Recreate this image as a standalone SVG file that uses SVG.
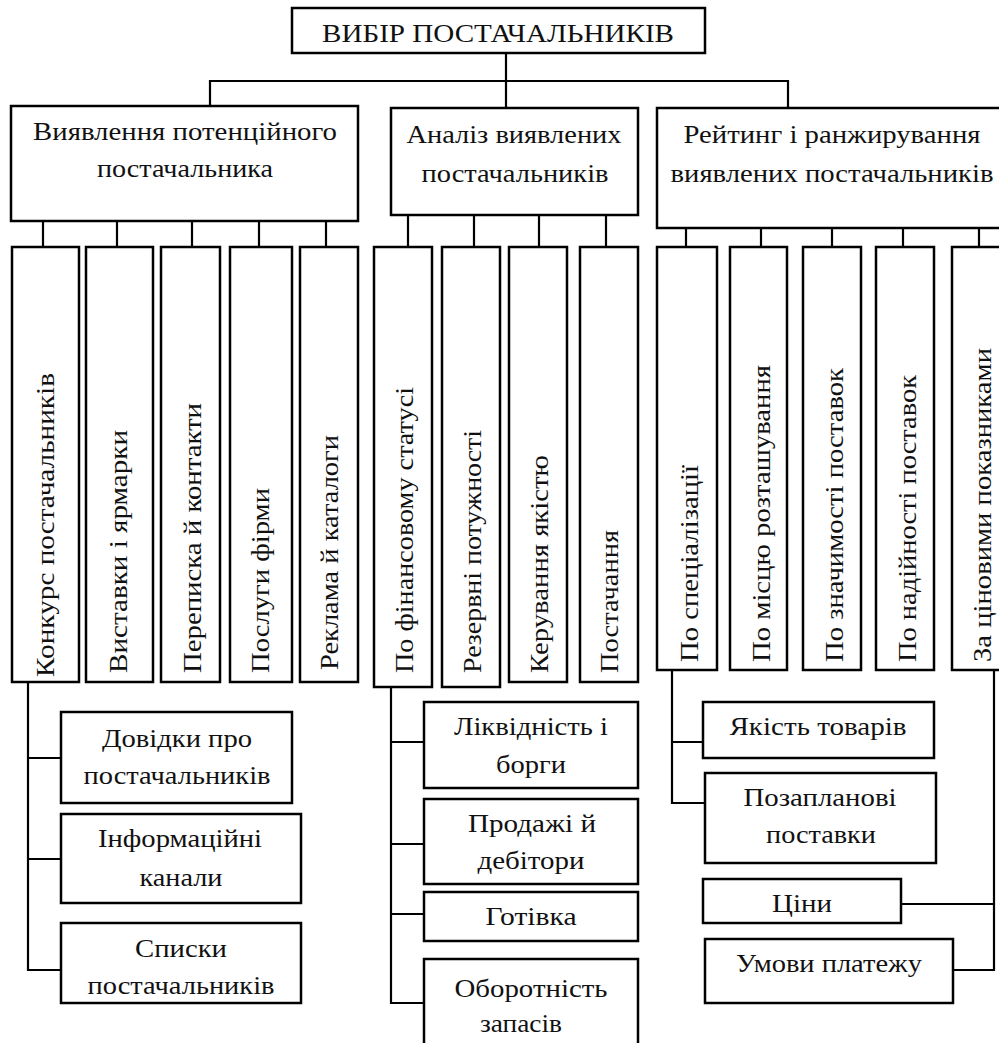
<svg xmlns="http://www.w3.org/2000/svg" width="999" height="1043" viewBox="0 0 999 1043">
<style>
.b{fill:#fff;stroke:#000;stroke-width:2.5}
.c{fill:none;stroke:#000;stroke-width:2.2}
text{font-family:"Liberation Serif","Times New Roman",serif;font-size:25px;fill:#111}
.m{text-anchor:middle}
</style>
<rect width="999" height="1043" fill="#fff"/>
<g id="connectors">
<path class="c" d="M506 53V108M210 106V81H788V108"/>
<path class="c" d="M43 221V247M117 221V247M192 221V247M259 221V247M326 221V247"/>
<path class="c" d="M408 215V247M474 215V247M539 215V247M606 215V247"/>
<path class="c" d="M686 228V247M761 228V247M832 228V247M903 228V247M979 228V247"/>
<path class="c" d="M28 682V970H61M28 758H61M28 859H61"/>
<path class="c" d="M391 687V1003H424M391 742H424M391 844H424M391 914H424"/>
<path class="c" d="M672 670V803H705M672 742H703"/>
<path class="c" d="M994 670V970H953M994 904H901"/>
</g>
<g id="root"><rect class="b" x="292" y="8" width="413" height="45"/><text class="m" x="498" y="42" textLength="352" lengthAdjust="spacingAndGlyphs">ВИБІР ПОСТАЧАЛЬНИКІВ</text></g>
<g id="n1"><rect class="b" x="11" y="106" width="347" height="115"/><text class="m" x="185" y="140" textLength="304" lengthAdjust="spacingAndGlyphs">Виявлення потенційного</text><text class="m" x="185" y="177" textLength="176" lengthAdjust="spacingAndGlyphs">постачальника</text></g>
<g id="n2"><rect class="b" x="391" y="108" width="247" height="107"/><text class="m" x="514" y="143" textLength="215" lengthAdjust="spacingAndGlyphs">Аналіз виявлених</text><text class="m" x="515" y="182" textLength="187" lengthAdjust="spacingAndGlyphs">постачальників</text></g>
<g id="n3"><rect class="b" x="657" y="108" width="350" height="120"/><text class="m" x="832" y="143" textLength="297" lengthAdjust="spacingAndGlyphs">Рейтинг і ранжирування</text><text class="m" x="832" y="182" textLength="323" lengthAdjust="spacingAndGlyphs">виявлених постачальників</text></g>

<g id="v1"><rect class="b" x="12" y="247" width="67" height="435"/><text transform="translate(54,677) rotate(-90)" textLength="304" lengthAdjust="spacingAndGlyphs">Конкурс постачальників</text></g>
<g id="v2"><rect class="b" x="86" y="247" width="67" height="435"/><text transform="translate(127,673) rotate(-90)" textLength="243" lengthAdjust="spacingAndGlyphs">Виставки і ярмарки</text></g>
<g id="v3"><rect class="b" x="161" y="247" width="59" height="435"/><text transform="translate(201,673) rotate(-90)" textLength="270" lengthAdjust="spacingAndGlyphs">Переписка й контакти</text></g>
<g id="v4"><rect class="b" x="230" y="247" width="62" height="435"/><text transform="translate(269,673) rotate(-90)" textLength="185" lengthAdjust="spacingAndGlyphs">Послуги фірми</text></g>
<g id="v5"><rect class="b" x="300" y="247" width="58" height="435"/><text transform="translate(338,670) rotate(-90)" textLength="235" lengthAdjust="spacingAndGlyphs">Реклама й каталоги</text></g>
<g id="v6"><rect class="b" x="374" y="247" width="58" height="440"/><text transform="translate(413,673) rotate(-90)" textLength="286" lengthAdjust="spacingAndGlyphs">По фінансовому статусі</text></g>
<g id="v7"><rect class="b" x="442" y="247" width="58" height="440"/><text transform="translate(481,673) rotate(-90)" textLength="243" lengthAdjust="spacingAndGlyphs">Резервні потужності</text></g>
<g id="v8"><rect class="b" x="509" y="247" width="58" height="435"/><text transform="translate(548,673) rotate(-90)" textLength="218" lengthAdjust="spacingAndGlyphs">Керування якістю</text></g>
<g id="v9"><rect class="b" x="580" y="247" width="58" height="435"/><text transform="translate(618,673) rotate(-90)" textLength="143" lengthAdjust="spacingAndGlyphs">Постачання</text></g>
<g id="v10"><rect class="b" x="657" y="247" width="60" height="423"/><text transform="translate(698,662) rotate(-90)" textLength="197" lengthAdjust="spacingAndGlyphs">По спеціалізації</text></g>
<g id="v11"><rect class="b" x="730" y="247" width="57" height="423"/><text transform="translate(770,662) rotate(-90)" textLength="297" lengthAdjust="spacingAndGlyphs">По місцю розташування</text></g>
<g id="v12"><rect class="b" x="803" y="247" width="58" height="423"/><text transform="translate(843,662) rotate(-90)" textLength="294" lengthAdjust="spacingAndGlyphs">По значимості поставок</text></g>
<g id="v13"><rect class="b" x="876" y="247" width="58" height="423"/><text transform="translate(916,662) rotate(-90)" textLength="287" lengthAdjust="spacingAndGlyphs">По надійності поставок</text></g>
<g id="v14"><rect class="b" x="952" y="247" width="60" height="423"/><text transform="translate(991,662) rotate(-90)" textLength="314" lengthAdjust="spacingAndGlyphs">За ціновими показниками</text></g>

<g id="s1"><rect class="b" x="61" y="712" width="231" height="91"/><text class="m" x="177" y="747" textLength="150" lengthAdjust="spacingAndGlyphs">Довідки про</text><text class="m" x="177" y="784" textLength="187" lengthAdjust="spacingAndGlyphs">постачальників</text></g>
<g id="s2"><rect class="b" x="61" y="814" width="240" height="89"/><text class="m" x="180" y="847" textLength="164" lengthAdjust="spacingAndGlyphs">Інформаційні</text><text class="m" x="181" y="886" textLength="83" lengthAdjust="spacingAndGlyphs">канали</text></g>
<g id="s3"><rect class="b" x="61" y="923" width="240" height="80"/><text class="m" x="181" y="957" textLength="92" lengthAdjust="spacingAndGlyphs">Списки</text><text class="m" x="181" y="994" textLength="187" lengthAdjust="spacingAndGlyphs">постачальників</text></g>

<g id="f1"><rect class="b" x="424" y="702" width="214" height="86"/><text class="m" x="531" y="735" textLength="154" lengthAdjust="spacingAndGlyphs">Ліквідність і</text><text class="m" x="531" y="773" textLength="70" lengthAdjust="spacingAndGlyphs">борги</text></g>
<g id="f2"><rect class="b" x="424" y="799" width="214" height="85"/><text class="m" x="532" y="832" textLength="128" lengthAdjust="spacingAndGlyphs">Продажі й</text><text class="m" x="531" y="869" textLength="107" lengthAdjust="spacingAndGlyphs">дебітори</text></g>
<g id="f3"><rect class="b" x="424" y="892" width="214" height="49"/><text class="m" x="531" y="925" textLength="91" lengthAdjust="spacingAndGlyphs">Готівка</text></g>
<g id="f4"><rect class="b" x="424" y="959" width="214" height="100"/><text class="m" x="531" y="997" textLength="153" lengthAdjust="spacingAndGlyphs">Оборотність</text><text class="m" x="521" y="1032" textLength="82" lengthAdjust="spacingAndGlyphs">запасів</text></g>

<g id="r1"><rect class="b" x="703" y="702" width="231" height="56"/><text class="m" x="818" y="735" textLength="177" lengthAdjust="spacingAndGlyphs">Якість товарів</text></g>
<g id="r2"><rect class="b" x="705" y="773" width="231" height="90"/><text class="m" x="820" y="806" textLength="153" lengthAdjust="spacingAndGlyphs">Позапланові</text><text class="m" x="821" y="843" textLength="110" lengthAdjust="spacingAndGlyphs">поставки</text></g>
<g id="r3"><rect class="b" x="703" y="879" width="198" height="44"/><text class="m" x="802" y="912" textLength="60" lengthAdjust="spacingAndGlyphs">Ціни</text></g>
<g id="r4"><rect class="b" x="705" y="939" width="248" height="64"/><text class="m" x="829" y="972" textLength="186" lengthAdjust="spacingAndGlyphs">Умови платежу</text></g>
</svg>
